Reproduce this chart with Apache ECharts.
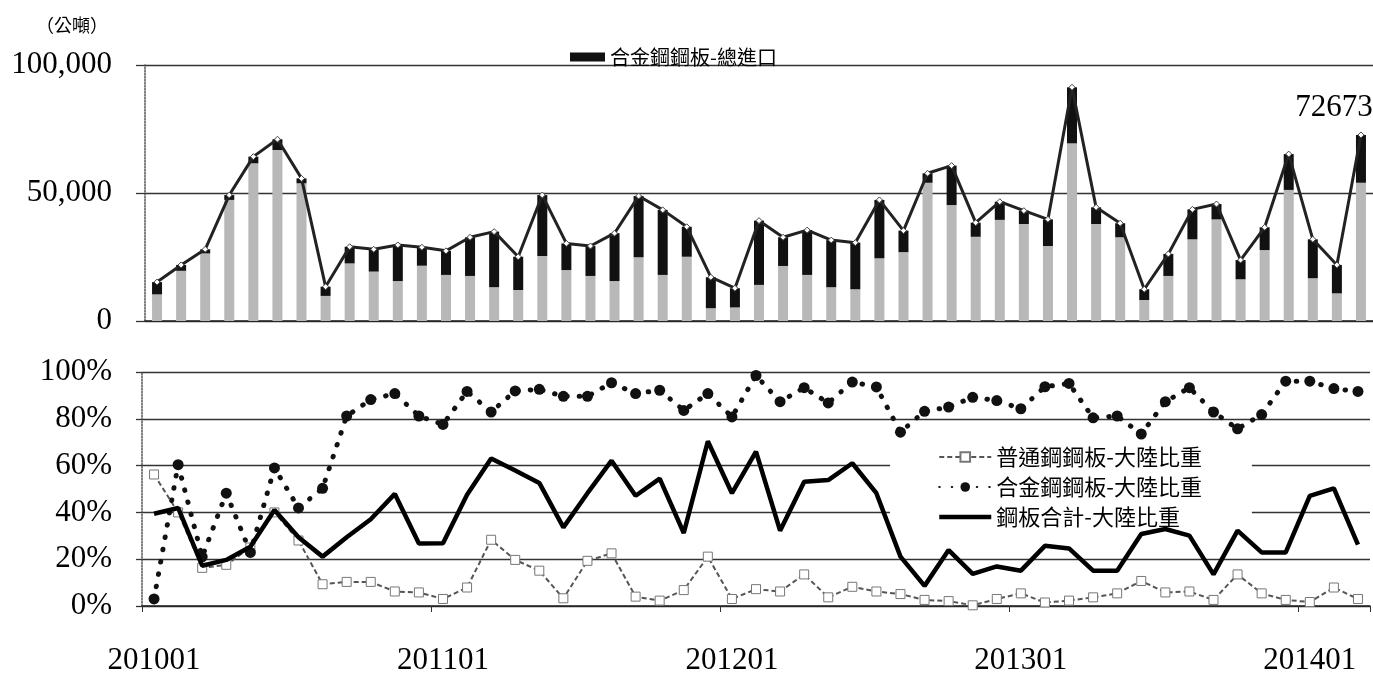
<!DOCTYPE html>
<html><head><meta charset="utf-8">
<script src="https://cdn.jsdelivr.net/npm/echarts@6/dist/echarts.min.js"></script>
<style>html,body{margin:0;padding:0;background:#fff}#c{width:1373px;height:676px}</style>
</head><body><div id="c"></div>
<script>
const months = ['201001','201002','201003','201004','201005','201006','201007','201008','201009','201010','201011','201012',
'201101','201102','201103','201104','201105','201106','201107','201108','201109','201110','201111','201112',
'201201','201202','201203','201204','201205','201206','201207','201208','201209','201210','201211','201212',
'201301','201302','201303','201304','201305','201306','201307','201308','201309','201310','201311','201312',
'201401','201402','201403'];

// tons
const ordinaryImport = [10400,19600,26400,47300,61600,66800,53800,9800,22500,19300,15600,21600,18000,17600,13200,12100,25400,19900,17600,15600,24900,18000,25100,5000,5300,14100,21500,18000,13200,12400,24500,26900,54000,45300,32900,39500,37900,29300,69400,37900,32700,8200,17600,31900,39700,16300,27700,51200,16700,10800,54000];
const alloyImport = [4800,2300,1600,1900,2600,4200,1900,3600,6500,8700,14100,7200,9400,15100,21700,13000,23800,10400,11700,18700,23900,25400,11700,12100,7500,25100,11200,17500,18400,18200,22800,8400,3700,15400,5500,7100,5200,10400,21900,6500,5500,4200,8600,11700,6000,7500,8900,14000,15200,11100,18673];
const totalImport = [15200,21900,28000,49200,64200,71000,55700,13400,29000,28000,29700,28800,27400,32700,34900,25100,49200,30300,29300,34300,48800,43400,36800,17100,12800,39200,32700,35500,31600,30600,47300,35300,57700,60700,38400,46600,43100,39700,91300,44400,38200,12400,26200,43600,45700,23800,36600,65200,31900,21900,72673];

// percent
const ordinaryShare = [56.2,40,16.3,17.6,25,40,28,9.3,10.3,10.3,6.2,5.8,3.0,7.9,28.3,19.7,15.1,3.3,19.3,22.5,4.0,2.3,6.8,21.1,3.0,7.2,6.2,13.5,3.7,8.2,6.2,5.1,2.6,2.1,0.3,3.0,5.4,1.5,2.3,3.7,5.4,10.7,5.8,6.2,2.6,13.5,5.4,2.6,1.7,7.9,3.0];
const alloyShare = [3.0,60.4,21,48.2,22.9,59.0,41.9,50.3,81.2,88.2,90.8,81.2,77.6,91.7,82.9,91.9,92.6,89.6,89.6,95.4,90.8,92.2,83.6,90.8,80.8,98.5,87.3,93.3,86.8,95.7,93.6,74.3,83.2,85.0,89.2,87.8,84.3,93.7,95.1,80.4,81.2,73.5,87.3,93.3,82.9,75.7,81.8,96.1,96.1,92.9,91.7];
const totalShare = [39.4,41.9,17.2,19.7,25.3,41.0,29.4,21.1,29.4,37.1,47.9,26.7,26.8,47.5,63.0,57.9,52.6,33.6,48.2,62.1,47.1,54.4,31.2,70.4,48.2,66.0,32.2,53.1,53.8,61.0,48.2,21.1,8.6,23.9,13.7,16.9,15.1,25.7,24.6,15.1,15.1,30.8,32.9,30.1,13.5,32.2,22.9,22.9,47.1,50.3,26.2];

const serif = '"Liberation Serif","DejaVu Serif",serif';
const cjk = '"Noto Sans CJK TC","Noto Sans CJK SC",sans-serif';

const chart = echarts.init(document.getElementById('c'));
const lastIdx = totalImport.length - 1;
const totalData = totalImport.map((v, i) => i === lastIdx ? {
  value: v,
  label: {show: true, position: 'top', offset: [-27, -3], formatter: p => String(p.value),
          fontFamily: serif, fontSize: 31, color: '#000'}
} : v);

chart.setOption({
  animation: false,
  backgroundColor: '#fff',
  graphic: [{type: 'text', left: 36, top: 16, style: {text: '（公噸）', font: '18px ' + cjk, fill: '#000'}}],
  grid: [
    {left: 145, width: 1228, top: 65, height: 256},
    {left: 142, width: 1228, top: 372, height: 240}
  ],
  xAxis: [
    {type: 'category', gridIndex: 0, data: months,
     axisLine: {lineStyle: {color: '#222', width: 1.5}}, axisTick: {show: false}, axisLabel: {show: false}},
    {type: 'category', gridIndex: 1, data: months,
     axisLine: {lineStyle: {color: '#222', width: 1.5}},
     axisTick: {show: true, interval: 11, length: 6, lineStyle: {color: '#333'}},
     axisLabel: {interval: 11, fontFamily: serif, fontSize: 31, color: '#000', margin: 39}}
  ],
  yAxis: [
    {type: 'value', gridIndex: 0, min: 0, max: 100000, interval: 50000,
     axisLine: {show: true, lineStyle: {color: '#555', type: 'dotted', width: 1.5}},
     axisTick: {show: true, inside: false, length: 9, lineStyle: {color: '#333', width: 1.3}},
     splitLine: {lineStyle: {color: '#333', width: 1.3}},
     axisLabel: {formatter: v => v.toLocaleString('en-US'), fontFamily: serif, fontSize: 31, color: '#000', margin: 33}},
    {type: 'value', gridIndex: 1, min: 0, max: 100, interval: 20,
     axisLine: {show: true, lineStyle: {color: '#555', type: 'dotted', width: 1.5}},
     axisTick: {show: true, inside: false, length: 6, lineStyle: {color: '#333', width: 1.3}},
     splitLine: {lineStyle: {color: '#333', width: 1.3}},
     axisLabel: {formatter: '{value}%', fontFamily: serif, fontSize: 31, color: '#000', margin: 30}}
  ],
  legend: [
    {data: [{name: '合金鋼鋼板-總進口', icon: 'rect'}], left: 570, top: 47, itemWidth: 35, itemHeight: 9,
     padding: 0, textStyle: {fontFamily: cjk, fontSize: 20, color: '#000'}},
    {data: [
       {name: '普通鋼鋼板-大陸比重'},
       {name: '合金鋼鋼板-大陸比重'},
       {name: '鋼板合計-大陸比重', itemStyle: {opacity: 0}, lineStyle: {width: 4.5, color: '#000'}}
     ], orient: 'vertical',
     left: 890, top: 442, itemWidth: 52, itemHeight: 12, itemGap: 8, backgroundColor: '#fff',
     padding: [4, 50, 4, 47], textStyle: {fontFamily: cjk, fontSize: 22, color: '#000'}}
  ],
  series: [
    {name: '普通鋼鋼板-總進口', type: 'bar', xAxisIndex: 0, yAxisIndex: 0, stack: 'imp', barWidth: 10,
     data: ordinaryImport, itemStyle: {color: '#b8b8b8'}},
    {name: '合金鋼鋼板-總進口', type: 'bar', xAxisIndex: 0, yAxisIndex: 0, stack: 'imp', barWidth: 10,
     data: alloyImport, itemStyle: {color: '#111'}},
    {name: '鋼板合計-總進口', type: 'line', xAxisIndex: 0, yAxisIndex: 0, data: totalData,
     symbol: 'diamond', symbolSize: 6, showAllSymbol: true,
     lineStyle: {color: '#222', width: 3}, itemStyle: {color: '#fff', borderColor: '#444', borderWidth: 1}, z: 5},
    {name: '普通鋼鋼板-大陸比重', type: 'line', xAxisIndex: 1, yAxisIndex: 1, data: ordinaryShare,
     symbol: 'rect', symbolSize: 9, showAllSymbol: true,
     lineStyle: {color: '#555', width: 2, type: [5, 3]},
     itemStyle: {color: '#fff', borderColor: '#777', borderWidth: 1}},
    {name: '合金鋼鋼板-大陸比重', type: 'line', xAxisIndex: 1, yAxisIndex: 1, data: alloyShare,
     symbol: 'circle', symbolSize: 11, showAllSymbol: true,
     lineStyle: {color: '#111', width: 5, type: [0.5, 12], cap: 'round'},
     itemStyle: {color: '#111'}},
    {name: '鋼板合計-大陸比重', type: 'line', xAxisIndex: 1, yAxisIndex: 1, data: totalShare,
     symbol: 'none', lineStyle: {color: '#000', width: 4.5}, itemStyle: {color: '#000'}, z: 4}
  ]
});
</script></body></html>
